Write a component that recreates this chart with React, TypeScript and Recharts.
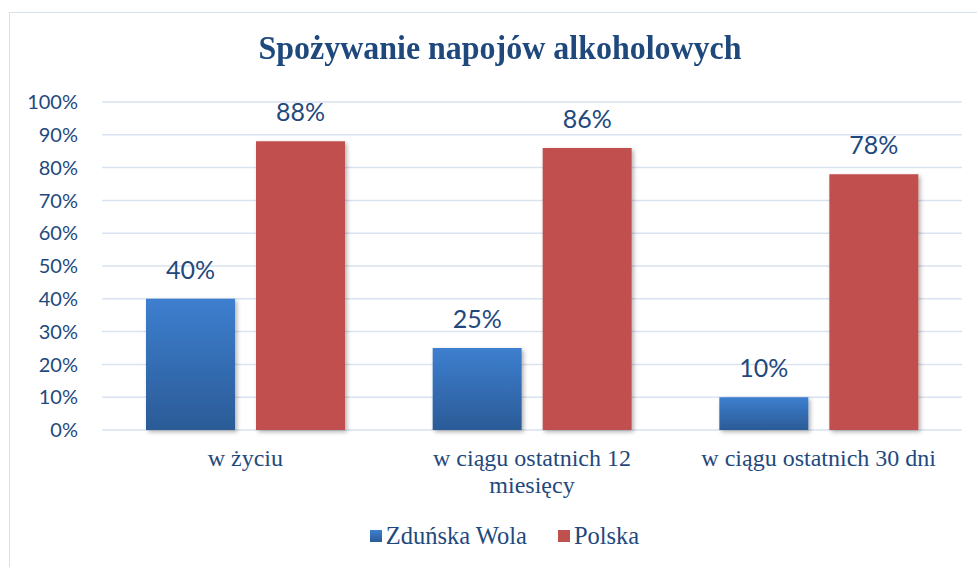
import React from "react";
import { BarChart, Bar, XAxis, YAxis, CartesianGrid, LabelList, Legend } from "recharts";

const categories = ["w życiu", "w ciągu ostatnich 12 miesięcy", "w ciągu ostatnich 30 dni"];
const categoryLabelLines = [["w życiu"], ["w ciągu ostatnich 12", "miesięcy"], ["w ciągu ostatnich 30 dni"]];
const zdunskaWola = [40, 25, 10];
const polska = [88, 86, 78];
const yTicks = [0, 10, 20, 30, 40, 50, 60, 70, 80, 90, 100];
const seriesNames = ["Zduńska Wola", "Polska"];
const title = "Spożywanie napojów alkoholowych";

const data = categories.map((c, i) => ({ name: c, zw: zdunskaWola[i], pl: polska[i] }));

const TEXT = "#1F497D";
const SANS = "Lato, 'Open Sans', sans-serif";
const SERIF = "'Liberation Serif', 'Times New Roman', serif";

const XTick = (props: any) => {
  const { x, y, payload } = props;
  const lines = categoryLabelLines[payload.index] || [payload.value];
  return (
    <g>
      {lines.map((l: string, i: number) => (
        <text key={i} x={x} y={y + 36 + i * 27} textAnchor="middle" fill={TEXT} fontFamily={SERIF} fontSize={24}>
          {l}
        </text>
      ))}
    </g>
  );
};

const LegendContent = () => (
  <div style={{ display: "flex", justifyContent: "center", alignItems: "center", fontFamily: SERIF, fontSize: 24.5, color: TEXT, lineHeight: "28px", paddingLeft: 32 }}>
    <span style={{ display: "inline-block", width: 12, height: 12, background: "linear-gradient(#3D7FCF, #2B5B97)", marginRight: 4 }} />
    <span style={{ marginRight: 31 }}>{seriesNames[0]}</span>
    <span style={{ display: "inline-block", width: 12, height: 12, background: "#C0504D", marginRight: 4 }} />
    <span>{seriesNames[1]}</span>
  </div>
);

export default function App() {
  return (
    <div style={{ position: "absolute", left: 0, top: 0, width: 977, height: 567, background: "#fff", overflow: "hidden" }}>
      <div style={{ position: "absolute", left: 9, top: 12, width: 1000, height: 600, border: "1.5px solid #D6E1F0", boxSizing: "border-box" }} />
      <div style={{ position: "absolute", left: 0, top: 29, width: 1000, textAlign: "center", fontFamily: SERIF, fontWeight: "bold", fontSize: 34, color: TEXT, transform: "scaleX(0.94)", transformOrigin: "500px 0" }}>
        {title}
      </div>
      <div style={{ position: "absolute", left: 0, top: 0 }}>
        <BarChart width={977} height={567} data={data} margin={{ top: 102, right: 15, left: 12, bottom: 77 }} barSize={89} barGap={21}>
          <defs>
            <linearGradient id="blueGrad" x1="0" y1="0" x2="0" y2="1">
              <stop offset="0%" stopColor="#3D7FCF" />
              <stop offset="100%" stopColor="#2B5B97" />
            </linearGradient>
            <filter id="shadow" x="-10%" y="-10%" width="130%" height="130%">
              <feDropShadow dx="2" dy="2" stdDeviation="2" floodColor="#000" floodOpacity="0.3" />
            </filter>
          </defs>
          <CartesianGrid vertical={false} stroke="#D9E2EF" strokeWidth={1.5} />
          <XAxis dataKey="name" axisLine={false} tickLine={false} tickSize={0} tickMargin={0} height={60} tick={<XTick />} interval={0} />
          <YAxis
            width={90}
            domain={[0, 100]}
            ticks={yTicks}
            axisLine={false}
            tickLine={false}
            tickSize={0}
            tickMargin={24}
            tickFormatter={(v: number) => `${v}%`}
            tick={{ fill: TEXT, fontFamily: SANS, fontSize: 20 }}
            interval={0}
          />
          <Bar dataKey="zw" name={seriesNames[0]} fill="url(#blueGrad)" isAnimationActive={false} filter="url(#shadow)">
            <LabelList dataKey="zw" position="top" offset={20} formatter={(v: any) => `${v}%`} fill={TEXT} fontFamily={SANS} fontSize={25} />
          </Bar>
          <Bar dataKey="pl" name={seriesNames[1]} fill="#C0504D" isAnimationActive={false} filter="url(#shadow)">
            <LabelList dataKey="pl" position="top" offset={20} formatter={(v: any) => `${v}%`} fill={TEXT} fontFamily={SANS} fontSize={25} />
          </Bar>
          <Legend layout="horizontal" verticalAlign="middle" align="center" content={<LegendContent />} wrapperStyle={{ top: 522, left: 0, width: 977, height: 30 }} />
        </BarChart>
      </div>
    </div>
  );
}
